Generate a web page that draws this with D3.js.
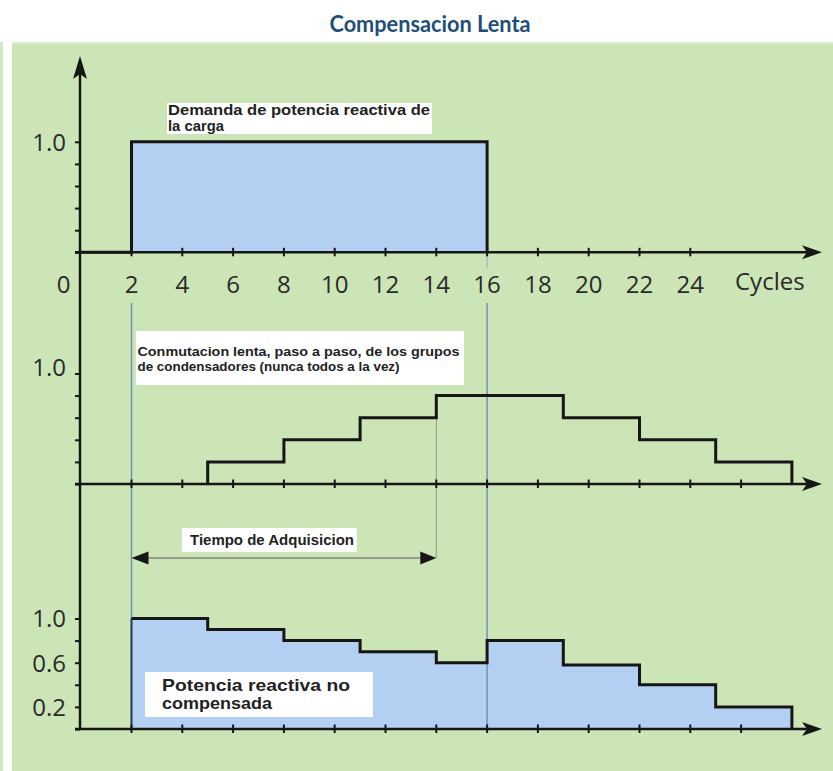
<!DOCTYPE html>
<html>
<head>
<meta charset="utf-8">
<script src="https://cdn.jsdelivr.net/npm/d3@7/dist/d3.min.js"></script>
<style>
  body { margin: 0; background: #ffffff; }
  svg { display: block; }
</style>
</head>
<body>
<script>
// ---------------- data ----------------
const chartTitle = "Compensacion Lenta";
const xAxisName = "Cycles";
const xLabelValues = [0, 2, 4, 6, 8, 10, 12, 14, 16, 18, 20, 22, 24];
const xTickLabels = ["0", "2", "4", "6", "8", "10", "12", "14", "16", "18", "20", "22", "24"];
const topTickValues = [2, 4, 6, 8, 10, 12, 14, 16, 18, 20, 22, 24];
const lowerTickValues = [2, 4, 6, 8, 10, 12, 14, 16, 18, 20, 22, 24, 26];
const yTickValues = [0, 0.2, 0.4, 0.6, 0.8, 1.0];
const topYLabelValues = [1.0];
const midYLabelValues = [1.0];
const botYLabelValues = [1.0, 0.6, 0.2];

// load demand (top panel)
const demandCycles = [0, 2, 16];
const demandValues = [0, 1.0, 0];
// slow step switching of capacitor banks (middle panel)
const switchCycles = [5, 5, 8, 11, 14, 19, 22, 25, 28];
const switchValues = [0, 0.2, 0.4, 0.6, 0.8, 0.6, 0.4, 0.2, 0];
// uncompensated reactive power (bottom panel)
const uncompCycles = [2, 5, 8, 11, 14, 16, 19, 22, 25, 28];
const uncompValues = [1.0, 0.9, 0.8, 0.7, 0.6, 0.8, 0.58, 0.4, 0.2, 0];

const guideCycles = [2, 16];
const acquisitionStart = 2;
const acquisitionEnd = 14;

const demandText = ["Demanda de potencia reactiva de", "la carga"];
const switchText = ["Conmutacion lenta, paso a paso, de los grupos", "de condensadores (nunca todos a la vez)"];
const acquisitionText = ["Tiempo de Adquisicion"];
const uncompText = ["Potencia reactiva no", "compensada"];

// ---------------- layout ----------------
const W = 833, H = 771;
const green = "#cce5b6";
const blue = "#b3d0f2";
const ink = "#161616";
const labelInk = "#2a2a2a";

const svg = d3.select("body").append("svg")
  .attr("width", W).attr("height", H)
  .attr("viewBox", `0 0 ${W} ${H}`);

// background
svg.append("rect").attr("x", 0).attr("y", 0).attr("width", W).attr("height", H).attr("fill", "#ffffff");
svg.append("rect").attr("x", 0).attr("y", 42).attr("width", 3).attr("height", H - 42).attr("fill", "#d3e8c3");
svg.append("rect").attr("x", 12).attr("y", 42).attr("width", W - 12).attr("height", H - 42).attr("fill", green);
svg.append("rect").attr("x", 12).attr("y", 42).attr("width", W - 12).attr("height", 2).attr("fill", "#d9ecc9");

// title
svg.append("text")
  .attr("x", 430).attr("y", 32)
  .attr("text-anchor", "middle")
  .attr("font-family", "Lato, 'Open Sans', sans-serif")
  .attr("font-weight", "bold")
  .attr("font-size", 23)
  .attr("fill", "#1f4e79")
  .attr("textLength", 201)
  .attr("lengthAdjust", "spacingAndGlyphs")
  .text(chartTitle);

// scales
const x = d3.scaleLinear().domain([0, 28]).range([80.7, 80.7 + 25.4 * 28]);
const axisX = 80;
const panels = {
  top: { base: 252.3, tickValues: topTickValues, labels: topYLabelValues, labelShift: 0 },
  mid: { base: 484, tickValues: lowerTickValues, labels: midYLabelValues, labelShift: -6 },
  bot: { base: 729, tickValues: lowerTickValues, labels: botYLabelValues, labelShift: 0 }
};
for (const k in panels) {
  const p = panels[k];
  p.y = d3.scaleLinear().domain([0, 1]).range([p.base, p.base - 110.5]);
}

const gFill = svg.append("g");
const gGuide = svg.append("g");
const gLines = svg.append("g");
const gAxes = svg.append("g");
const gNotes = svg.append("g");

// ---------- top: demand ----------
const demandPts = demandCycles.map((c, i) => [c, demandValues[i]]);
const pTop = panels.top;
gFill.append("path")
  .datum(demandPts)
  .attr("fill", blue)
  .attr("d", d3.area().curve(d3.curveStepAfter).x(d => x(d[0])).y0(pTop.y(0)).y1(d => pTop.y(d[1])));
gLines.append("path")
  .datum(demandPts)
  .attr("fill", "none").attr("stroke", ink).attr("stroke-width", 3)
  .attr("d", d3.line().curve(d3.curveStepAfter).x(d => x(d[0])).y(d => pTop.y(d[1])));

// ---------- middle: switching ----------
const switchPts = switchCycles.map((c, i) => [c, switchValues[i]]);
const pMid = panels.mid;
gLines.append("path")
  .datum(switchPts)
  .attr("fill", "none").attr("stroke", ink).attr("stroke-width", 3)
  .attr("d", d3.line().curve(d3.curveStepAfter).x(d => x(d[0])).y(d => pMid.y(d[1])));

// ---------- bottom: uncompensated ----------
const uncompPts = uncompCycles.map((c, i) => [c, uncompValues[i]]);
const pBot = panels.bot;
gFill.append("path")
  .datum(uncompPts)
  .attr("fill", blue)
  .attr("d", d3.area().curve(d3.curveStepAfter).x(d => x(d[0])).y0(pBot.y(0)).y1(d => pBot.y(d[1])));
gLines.append("path")
  .datum(uncompPts)
  .attr("fill", "none").attr("stroke", ink).attr("stroke-width", 3)
  .attr("d", d3.line().curve(d3.curveStepAfter).x(d => x(d[0])).y(d => pBot.y(d[1])));
gLines.append("line")
  .attr("x1", x(uncompCycles[0])).attr("x2", x(uncompCycles[0]))
  .attr("y1", pBot.y(0)).attr("y2", pBot.y(uncompValues[0]))
  .attr("stroke", "#2d3e52").attr("stroke-width", 2);

// ---------- guide lines ----------
gGuide.selectAll("line.guide").data(guideCycles).join("line")
  .attr("class", "guide")
  .attr("x1", d => x(d)).attr("x2", d => x(d))
  .attr("y1", 303).attr("y2", pBot.y(0))
  .attr("stroke", "#7193b3").attr("stroke-width", 1.5);
gGuide.append("line")
  .attr("x1", x(16)).attr("x2", x(16))
  .attr("y1", pTop.y(0)).attr("y2", 268)
  .attr("stroke", "#9fb5c8").attr("stroke-width", 1.2);
// acquisition end marker
gGuide.append("line")
  .attr("x1", x(acquisitionEnd)).attr("x2", x(acquisitionEnd))
  .attr("y1", pMid.y(0.6)).attr("y2", 558)
  .attr("stroke", "#8d9c8a").attr("stroke-width", 1);

// ---------- axes ----------
const xEnd = 822;
// vertical axis
gAxes.append("line")
  .attr("x1", axisX).attr("x2", axisX).attr("y1", 72).attr("y2", pBot.y(0) + 1)
  .attr("stroke", ink).attr("stroke-width", 2.5);
gAxes.append("path")
  .attr("d", `M${axisX},56 L${axisX + 7},79 L${axisX},74 L${axisX - 7},79 Z`)
  .attr("fill", ink);

for (const k in panels) {
  const p = panels[k];
  const g = gAxes.append("g");
  // horizontal axis line + arrow
  g.append("line")
    .attr("x1", axisX - 5).attr("x2", xEnd - 8)
    .attr("y1", p.base).attr("y2", p.base)
    .attr("stroke", ink).attr("stroke-width", 2.5);
  g.append("path")
    .attr("d", `M${xEnd},${p.base} L${xEnd - 20},${p.base - 7} L${xEnd - 15},${p.base} L${xEnd - 20},${p.base + 7} Z`)
    .attr("fill", ink);
  // x ticks
  g.selectAll("line.xt").data(p.tickValues).join("line")
    .attr("class", "xt")
    .attr("x1", d => x(d)).attr("x2", d => x(d))
    .attr("y1", p.base - 4.5).attr("y2", p.base + 4)
    .attr("stroke", ink).attr("stroke-width", 2);
  // y ticks and labels via d3 axis
  const yAxis = d3.axisLeft(p.y)
    .tickValues(yTickValues)
    .tickSize(5)
    .tickPadding(9)
    .tickFormat(d => p.labels.some(v => Math.abs(v - d) < 1e-9) ? d3.format(".1f")(d) : "");
  const ga = g.append("g").attr("transform", `translate(${axisX},0)`).call(yAxis);
  ga.select(".domain").remove();
  ga.selectAll(".tick line").attr("stroke", ink).attr("stroke-width", 2);
  ga.selectAll(".tick text")
    .attr("font-family", "'Open Sans', sans-serif")
    .attr("font-size", 24)
    .attr("fill", labelInk)
    .attr("dy", "0.35em")
    .attr("y", p.labelShift);
}

// x axis labels (under top panel)
const gx = gAxes.append("g");
gx.selectAll("text.xl").data(xLabelValues).join("text")
  .attr("class", "xl")
  .attr("x", (d, i) => x(d) + (d === 0 ? -17 : 0))
  .attr("y", 293)
  .attr("text-anchor", "middle")
  .attr("font-family", "'Open Sans', sans-serif")
  .attr("font-size", 24)
  .attr("fill", labelInk)
  .text((d, i) => xTickLabels[i]);
gx.append("text")
  .attr("x", 735).attr("y", 290)
  .attr("font-family", "'Open Sans', sans-serif")
  .attr("font-size", 24)
  .attr("fill", labelInk)
  .text(xAxisName);

// ---------- acquisition arrow ----------
const ay = 558;
const ax1 = x(acquisitionStart), ax2 = x(acquisitionEnd);
gNotes.append("line")
  .attr("x1", ax1 + 10).attr("x2", ax2 - 10).attr("y1", ay).attr("y2", ay)
  .attr("stroke", "#5a5a5a").attr("stroke-width", 1);
gNotes.append("path")
  .attr("d", `M${ax1},${ay} L${ax1 + 17},${ay - 6.5} L${ax1 + 17},${ay + 6.5} Z`)
  .attr("fill", ink);
gNotes.append("path")
  .attr("d", `M${ax2},${ay} L${ax2 - 16},${ay - 6.5} L${ax2 - 16},${ay + 6.5} Z`)
  .attr("fill", ink);

// ---------- annotation boxes ----------
function note(box, lines, tx, baselines, size, widths) {
  gNotes.append("rect")
    .attr("x", box[0]).attr("y", box[1]).attr("width", box[2]).attr("height", box[3])
    .attr("fill", "#ffffff");
  lines.forEach((t, i) => {
    const el = gNotes.append("text")
      .attr("x", tx).attr("y", baselines[i])
      .attr("font-family", "'Liberation Sans', Arial, sans-serif")
      .attr("font-weight", "bold")
      .attr("font-size", size)
      .attr("fill", "#222222")
      .text(t);
    if (widths && widths[i]) el.attr("textLength", widths[i]).attr("lengthAdjust", "spacingAndGlyphs");
  });
}
note([167, 103, 265, 31], demandText, 168, [114.5, 130.5], 14.5, [262, 56]);
note([136, 331, 328, 54], switchText, 137.5, [355.5, 371], 12.5, [322, 262]);
note([182, 528, 175, 24], acquisitionText, 190, [545, null], 15, [164]);
note([145, 672, 228, 45], uncompText, 162, [690.5, 708.5], 17, [188, 110]);
</script>
</body>
</html>
